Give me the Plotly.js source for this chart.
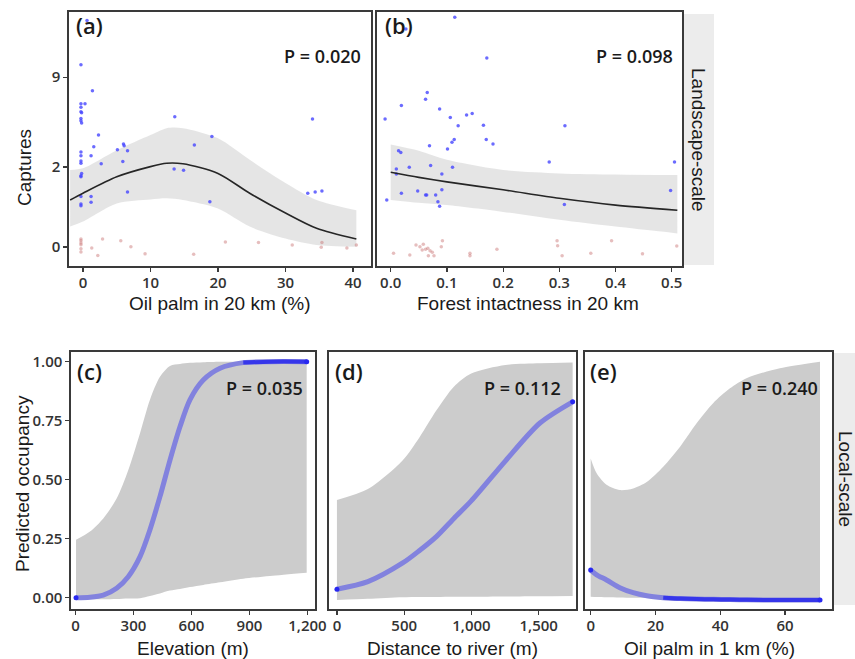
<!DOCTYPE html>
<html>
<head>
<meta charset="utf-8">
<script src="https://cdn.plot.ly/plotly-3.0.1.min.js"></script>
<style>html,body{margin:0;padding:0;background:#fff;}#chart{width:855px;height:659px;}</style>
</head>
<body>
<div id="chart"></div>
<script>
// ---------------- DATA ----------------
// Landscape-scale panels: y axis is square-root scaled captures (values below are in sqrt(captures) units)
const captureTickValues = [0, 2, 9];
const captureTickLabels = ["0", "2", "9"];

// (a) Oil palm in 20 km (%)
const aBlueX = [0.6,-0.3,1.4,-0.3,0.3,-0.3,-0.3,-0.2,-0.3,-0.3,-0.2,13.6,34.0,2.3,19.1,1.6,16.5,6.0,6.1,5.1,6.6,-0.3,-0.3,1.2,-0.3,-0.3,5.9,2.7,13.5,14.9,-0.2,-0.3,-0.3,6.6,33.3,34.4,35.4,-0.3,1.2,-0.3,-0.3,1.2,18.8];
const aBlueSqrtY = [4.0,3.22,2.76,2.53,2.53,2.47,2.39,2.37,2.27,2.23,2.19,2.30,2.26,1.98,1.95,1.77,1.80,1.82,1.79,1.72,1.70,1.68,1.61,1.61,1.52,1.48,1.51,1.47,1.38,1.355,1.30,1.26,1.24,0.97,0.95,0.97,0.99,0.89,0.89,0.76,0.73,0.79,0.80];
const aRedX = [-0.3,-0.3,-0.3,-0.3,-0.3,-0.3,1.3,2.2,2.9,5.6,7.1,9.2,16.4,21.1,26.0,31.0,35.4,35.3,39.1,40.5];
const aRedSqrtY = [0.14,0.11,0.07,0.04,-0.03,-0.09,-0.02,-0.15,0.14,0.11,0.005,-0.12,-0.13,0.09,0.08,0.035,0.08,-0.005,-0.02,0.035];
const aFitX = [-1.9,0,5,10,12.4,14.8,20,24.7,30,34.6,40.5];
const aFitSqrtY = [0.83,0.95,1.24,1.42,1.48,1.47,1.30,0.95,0.60,0.33,0.14];
const aUpperSqrtY = [1.36,1.39,1.71,1.98,2.10,2.10,1.92,1.54,1.13,0.83,0.65];
const aLowerSqrtY = [0.36,0.45,0.77,0.84,0.86,0.83,0.68,0.36,0.15,0.035,0.005];

// (b) Forest intactness in 20 km
const bBlueX = [0.114,0.027,0.171,0.065,0.062,0.019,0.087,0.145,0.135,-0.01,0.106,0.12,0.165,0.31,0.113,0.109,0.17,0.182,0.069,0.101,0.014,0.018,0.282,0.505,0.033,0.071,0.11,0.01,0.01,0.091,0.048,0.062,0.064,0.091,0.08,0.019,0.498,-0.007,0.084,0.087,0.309];
const bBlueSqrtY = [4.06,3.85,3.34,2.73,2.61,2.50,2.44,2.36,2.33,2.26,2.29,2.14,2.15,2.14,1.90,1.85,1.90,1.82,1.79,1.73,1.70,1.67,1.50,1.50,1.41,1.44,1.41,1.38,1.29,1.29,0.99,0.92,0.92,1.01,0.92,0.95,1.00,0.83,0.80,0.72,0.75];
const bRedX = [0.045,0.052,0.058,0.062,0.066,0.07,0.074,0.077,0.067,0.056,0.034,0.005,0.092,0.09,0.141,0.141,0.189,0.296,0.297,0.305,0.356,0.393,0.448,0.509];
const bRedSqrtY = [0.035,0.005,0.047,-0.04,-0.023,-0.065,-0.094,-0.153,-0.153,-0.053,-0.14,-0.11,0.11,0.005,-0.11,-0.153,-0.04,0.11,0.023,-0.153,-0.11,0.11,-0.12,0.018];
const bFitX = [0,0.05,0.1,0.2,0.3,0.4,0.51];
const bFitSqrtY = [1.32,1.23,1.15,1.01,0.86,0.74,0.65];
const bUpperSqrtY = [1.81,1.70,1.54,1.36,1.30,1.28,1.27];
const bLowerSqrtY = [0.83,0.78,0.74,0.62,0.48,0.36,0.24];

// (c) Elevation (m)
const cX = [3,75,144,213,273,334,385,437,489,541,592,661,748,868,1006,1196];
const cFit = [0,0.002,0.011,0.04,0.089,0.174,0.287,0.428,0.583,0.725,0.838,0.922,0.972,0.996,1.0,1.0];
const cUpper = [0.245,0.28,0.336,0.42,0.54,0.697,0.838,0.936,0.982,0.99,0.995,0.998,1.0,1.0,1.0,1.0];
const cLower = [-0.007,-0.007,-0.007,-0.006,-0.004,-0.002,0.007,0.018,0.03,0.037,0.045,0.054,0.065,0.08,0.092,0.106];

// (d) Distance to river (m)
const dX = [0,230,486,614,741,869,998,1253,1509,1752];
const dFit = [0.036,0.068,0.146,0.20,0.26,0.336,0.41,0.58,0.74,0.83];
const dUpper = [0.414,0.46,0.58,0.68,0.795,0.894,0.95,0.986,0.993,0.996];
const dLower = [-0.01,-0.005,0.002,0.003,0.003,0.004,0.004,0.005,0.006,0.007];

// (e) Oil palm in 1 km (%)
const eX = [0,1.85,4.9,9.0,13.1,17.3,22.4,27.6,32.7,37.8,43,48.1,58.4,70.8];
const eFit = [0.117,0.097,0.075,0.042,0.021,0.008,0,-0.004,-0.006,-0.007,-0.008,-0.009,-0.01,-0.01];
const eUpper = [0.59,0.527,0.478,0.456,0.463,0.49,0.555,0.64,0.739,0.824,0.887,0.93,0.972,1.0];
const eLower = [0.004,0.003,0.002,0.001,0,0,-0.001,-0.001,-0.002,-0.002,-0.003,-0.003,-0.003,-0.003];

const panelLabels = ["(a)","(b)","(c)","(d)","(e)"];
const pValues = ["P = 0.020","P = 0.098","P = 0.035","P = 0.112","P = 0.240"];
const xTitles = ["Oil palm in 20 km (%)","Forest intactness in 20 km","Elevation (m)","Distance to river (m)","Oil palm in 1 km (%)"];
const yTitles = ["Captures","Predicted occupancy"];
const stripLabels = ["Landscape-scale","Local-scale"];

// ---------------- LAYOUT HELPERS ----------------
const W = 855, H = 659;
const fx = p => p / W;
const fy = p => 1 - p / H;
const tickFont = {family:"Open Sans, sans-serif", size:15, color:"#333", weight:600};
const titleFont = {family:"Liberation Sans, Arial, sans-serif", size:19, color:"#1a1a1a"};
const labFont = {family:"Open Sans, sans-serif", size:22, color:"#1a1a1a", weight:600};
const pFont = {family:"Open Sans, sans-serif", size:18, color:"#1a1a1a", weight:600};

const traces = [];
function band(xs, lo, hi, ax, color) {
  traces.push({x:xs, y:lo, xaxis:ax[0], yaxis:ax[1], mode:"lines", line:{width:0, shape:"spline", smoothing:0.8}, hoverinfo:"skip"});
  traces.push({x:xs, y:hi, xaxis:ax[0], yaxis:ax[1], mode:"lines", line:{width:0, shape:"spline", smoothing:0.8}, fill:"tonexty", fillcolor:color, hoverinfo:"skip"});
}
function pts(xs, ys, ax, color) {
  traces.push({x:xs, y:ys, xaxis:ax[0], yaxis:ax[1], mode:"markers", marker:{size:3.5, color:color}, hoverinfo:"skip"});
}
function blackLine(xs, ys, ax) {
  traces.push({x:xs, y:ys, xaxis:ax[0], yaxis:ax[1], mode:"lines", line:{width:1.6, color:"#262626", shape:"spline", smoothing:0.8}});
}
function blueLine(xs, ys, ax, darkFrom) {
  traces.push({x:xs, y:ys, xaxis:ax[0], yaxis:ax[1], mode:"lines", line:{width:5, color:"rgb(130,130,222)", shape:"spline", smoothing:0.8}});
  const dx = [], dy = [];
  xs.forEach((v,i)=>{ if (v >= darkFrom) { dx.push(v); dy.push(ys[i]); } });
  if (dx.length > 1) traces.push({x:dx, y:dy, xaxis:ax[0], yaxis:ax[1], mode:"lines", line:{width:4, color:"rgba(45,45,235,0.9)", shape:"spline", smoothing:0.8}});
  const n = xs.length - 1;
  traces.push({x:[xs[0], xs[n]], y:[ys[0], ys[n]], xaxis:ax[0], yaxis:ax[1], mode:"markers", marker:{size:5, color:"rgb(40,40,240)"}});
}

// panel (a)
band(aFitX, aLowerSqrtY, aUpperSqrtY, ["x","y"], "rgba(215,215,215,0.65)");
pts(aRedX, aRedSqrtY, ["x","y"], "rgba(200,110,110,0.45)");
pts(aBlueX, aBlueSqrtY, ["x","y"], "rgba(70,70,255,0.8)");
blackLine(aFitX, aFitSqrtY, ["x","y"]);
// panel (b)
band(bFitX, bLowerSqrtY, bUpperSqrtY, ["x2","y2"], "rgba(215,215,215,0.65)");
pts(bRedX, bRedSqrtY, ["x2","y2"], "rgba(200,110,110,0.45)");
pts(bBlueX, bBlueSqrtY, ["x2","y2"], "rgba(70,70,255,0.8)");
blackLine(bFitX, bFitSqrtY, ["x2","y2"]);
// panel (c)
band(cX, cLower, cUpper, ["x3","y3"], "rgb(204,204,204)");
blueLine(cX, cFit, ["x3","y3"], 868);
// panel (d)
band(dX, dLower, dUpper, ["x4","y4"], "rgb(204,204,204)");
blueLine(dX, dFit, ["x4","y4"], 99999);
// panel (e)
band(eX, eLower, eUpper, ["x5","y5"], "rgb(204,204,204)");
blueLine(eX, eFit, ["x5","y5"], 22.4);

function xax(d0, d1, anchor, range, tickvals, fmt) {
  return {domain:[fx(d0), fx(d1)], anchor:anchor, range:range, tickvals:tickvals, tickformat:fmt||"",
    showgrid:false, zeroline:false, showline:true, mirror:true, linecolor:"#3a3a3a", linewidth:1.6,
    ticks:"outside", ticklen:4, tickwidth:1.2, tickcolor:"#3a3a3a", tickfont:tickFont, ticklabelstandoff:-2, fixedrange:true};
}
function yax(t0, t1, anchor, range, tickvals, ticktext, fmt, show) {
  return {domain:[fy(t1), fy(t0)], anchor:anchor, range:range, tickvals:tickvals, ticktext:ticktext, tickformat:fmt||"",
    showgrid:false, zeroline:false, showline:true, mirror:true, linecolor:"#3a3a3a", linewidth:1.6,
    ticks: show ? "outside" : "", ticklen:4, tickwidth:1.2, tickcolor:"#3a3a3a", showticklabels:show,
    tickfont:tickFont, fixedrange:true};
}
const capTicks = captureTickValues.map(Math.sqrt);
const topRange = [-0.336, 4.152];
const botRange = [-0.048, 1.041];
const occTicks = [0, 0.25, 0.5, 0.75, 1];

const layout = {
  width:W, height:H, margin:{l:0,r:0,t:0,b:0}, paper_bgcolor:"#fff", plot_bgcolor:"#fff",
  showlegend:false, hovermode:false,
  xaxis: xax(69, 371, "y", [-2.07, 42.67], [0,10,20,30,40]),
  yaxis: yax(12, 266, "x", topRange, capTicks, captureTickLabels, "", true),
  xaxis2: xax(377, 682, "y2", [-0.0244, 0.5183], [0,0.1,0.2,0.3,0.4,0.5], ".1f"),
  yaxis2: yax(12, 266, "x2", topRange, capTicks, captureTickLabels, "", false),
  xaxis3: xax(71, 315, "y3", [-23, 1239], [0,300,600,900,1200], ","),
  yaxis3: yax(352, 609, "x3", botRange, occTicks, null, ".2f", true),
  xaxis4: xax(329, 576, "y4", [-59, 1777], [0,500,1000,1500], ","),
  yaxis4: yax(352, 609, "x4", botRange, occTicks, null, ".2f", false),
  xaxis5: xax(585, 832, "y5", [-1.75, 74.5], [0,20,40,60]),
  yaxis5: yax(352, 609, "x5", botRange, occTicks, null, ".2f", false),
  shapes: [
    {type:"rect", xref:"paper", yref:"paper", x0:fx(683), x1:fx(714), y0:fy(265), y1:fy(14), fillcolor:"#ececec", line:{width:0}, layer:"below"},
    {type:"rect", xref:"paper", yref:"paper", x0:fx(834), x1:fx(855), y0:fy(605), y1:fy(353), fillcolor:"#ececec", line:{width:0}, layer:"below"}
  ],
  annotations: []
};
const A = layout.annotations;
function ann(text, x, y, font, opts) {
  A.push(Object.assign({text:text, xref:"paper", yref:"paper", x:fx(x), y:fy(y), showarrow:false, font:font, xanchor:"center", yanchor:"middle"}, opts||{}));
}
// panel labels & P values
const labPos = [[74,25],[383,25],[75,371],[333,371],[588,371]];
const pPos = [[363,56],[675,56],[305,388],[563,388],[820,388]];
panelLabels.forEach((t,i)=>ann(t, labPos[i][0], labPos[i][1], labFont, {xanchor:"left"}));
pValues.forEach((t,i)=>ann(t, pPos[i][0], pPos[i][1], pFont, {xanchor:"right"}));
// axis titles
ann(xTitles[0], 220, 304, titleFont);
ann(xTitles[1], 528, 304, titleFont);
ann(xTitles[2], 193, 648, titleFont);
ann(xTitles[3], 452, 648, titleFont);
ann(xTitles[4], 709, 648, titleFont);
ann(yTitles[0], 25, 168, titleFont, {textangle:-90});
ann(yTitles[1], 22, 484, titleFont, {textangle:-90});
// strip labels
ann(stripLabels[0], 699, 140, titleFont, {textangle:90});
ann(stripLabels[1], 846, 479, titleFont, {textangle:90});

Plotly.newPlot("chart", traces, layout, {staticPlot:true, displayModeBar:false});
</script>
</body>
</html>
